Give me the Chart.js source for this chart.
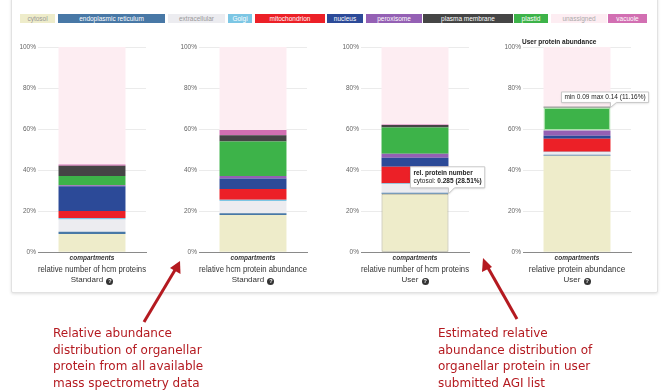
<!DOCTYPE html>
<html>
<head>
<meta charset="utf-8">
<script src="https://cdn.jsdelivr.net/npm/chart.js@4.4.1/dist/chart.umd.min.js"></script>
<style>
  html, body { margin: 0; padding: 0; background: #fff; }
  body { width: 670px; height: 392px; position: relative; overflow: hidden; font-family: "Liberation Sans", Arial, sans-serif; }
  .panel { position: absolute; left: 11px; top: -4px; width: 645px; height: 295px; border: 1px solid #e2e2e2; border-radius: 2px; box-shadow: 0 1px 3px rgba(0,0,0,0.12); background: #fff; }
  .legend-item { position: absolute; top: 14px; height: 9px; line-height: 9px; font-size: 6.5px; text-align: center; white-space: nowrap; }
  canvas { position: absolute; }
  .sub { position: absolute; top: 275px; width: 90px; text-align: center; font-size: 8px; color: #333; line-height: 10px; will-change: transform; }
  .q { display: inline-block; width: 7px; height: 7px; border-radius: 50%; background: #333; color: #fff; font-size: 5.5px; line-height: 7px; font-weight: bold; text-align: center; vertical-align: -1px; margin-left: 1px; }
  .ctitle { position: absolute; left: 522px; top: 38px; font-size: 6.5px; font-weight: bold; color: #222; }
  .note { position: absolute; font-family: "DejaVu Sans", sans-serif; font-size: 12px; line-height: 16.7px; color: #b41a20; }
</style>
</head>
<body>
<div class="panel"></div>
<div id="legend"></div>
<canvas id="c1" width="158" height="235" style="left:14px; top:40px;"></canvas>
<canvas id="c2" width="158" height="235" style="left:175px; top:40px;"></canvas>
<canvas id="c3" width="158" height="235" style="left:337px; top:40px;"></canvas>
<canvas id="c4" width="158" height="235" style="left:499px; top:40px;"></canvas>
<div class="sub" style="left:47px;">Standard <span class="q">?</span></div>
<div class="sub" style="left:208px;">Standard <span class="q">?</span></div>
<div class="sub" style="left:370px;">User <span class="q">?</span></div>
<div class="sub" style="left:532px;">User <span class="q">?</span></div>
<div class="ctitle">User protein abundance</div>

<svg width="670" height="392" style="position:absolute; left:0; top:0; pointer-events:none;">
  <g stroke="#b41a20" stroke-width="3" fill="#b41a20">
    <line x1="144" y1="322" x2="175" y2="270" />
    <polygon points="180,261 180.5,274 170,268" stroke="none" />
    <line x1="517" y1="319" x2="487" y2="266" />
    <polygon points="483,258 492,267 482,272" stroke="none" />
  </g>
</svg>

<div class="note" style="left:53px; top:325px;">Relative abundance<br>distribution of organellar<br>protein from all available<br>mass spectrometry data</div>
<div class="note" style="left:438px; top:325px;">Estimated relative<br>abundance distribution of<br>organellar protein in user<br>submitted AGI list</div>

<script>
const compartments = ["cytosol", "endoplasmic reticulum", "extracellular", "Golgi", "mitochondrion", "nucleus", "peroxisome", "plasma membrane", "plastid", "unassigned", "vacuole"];
const colors = ["#eeecca", "#4878a6", "#ececf0", "#7cc6e4", "#ec2027", "#2c4a98", "#9460b4", "#454545", "#3db349", "#fdedf2", "#d26fb2"];
const legendText = ["#999", "#fff", "#999", "#fff", "#fff", "#fff", "#fff", "#fff", "#fff", "#aaa", "#fff"];
// stacking order, bottom to top (indexes into compartments)
const stackOrder = [0, 1, 2, 3, 4, 5, 6, 8, 7, 10, 9];

// percentages, same order as compartments
const stdNumber    = [9.0, 1.0, 6.0, 0.7, 3.5, 12.0, 0.5, 5.0, 4.5, 57.2, 0.6];
const stdAbundance = [18.2, 0.8, 6.0, 0.6, 5.2, 5.2, 1.2, 3.0, 16.8, 40.4, 2.6];
const userNumber   = [28.51, 0.5, 4.3, 0.4, 8.0, 4.3, 2.0, 1.2, 12.8, 37.69, 0.3];
const userAbundance = [47.0, 0.5, 1.2, 0.3, 6.3, 1.5, 2.6, 0.3, 11.16, 29.14, 0];

const xLabels = ["compartments"];
const yTicks = [0, 20, 40, 60, 80, 100];

// legend layout
const legendLeft  = [20, 58, 168, 228, 255, 327, 366, 423, 514, 551, 608];
const legendWidth = [35, 107, 57, 24, 70, 36, 56, 90, 34, 56, 39];

const legendDiv = document.getElementById("legend");
compartments.forEach((name, i) => {
    const el = document.createElement("div");
    el.className = "legend-item";
    el.style.left = legendLeft[i] + "px";
    el.style.width = legendWidth[i] + "px";
    el.style.background = colors[i];
    el.style.color = legendText[i];
    el.textContent = name;
    legendDiv.appendChild(el);
});

Chart.defaults.font.family = "'Liberation Sans', Arial, sans-serif";
Chart.defaults.animation = false;

// draws a tooltip-like callout next to one bar segment
const calloutPlugin = {
    id: "callout",
    afterDraw(chart, args, opts) {
        if (!opts.lines) return;
        const el = chart.getDatasetMeta(opts.datasetIndex).data[0];
        const ctx = chart.ctx;
        const tipX = el.x + el.width / 2;
        const tipY = el.y;
        const fs = 6.5, lh = 8.5, pad = opts.pad || 3;
        let w = 0;
        opts.lines.forEach(parts => {
            let lw = 0;
            parts.forEach(p => {
                ctx.font = (p[1] ? "bold " : "") + fs + "px 'Liberation Sans', Arial";
                lw += ctx.measureText(p[0]).width;
            });
            w = Math.max(w, lw);
        });
        const bw = w + 6, bh = opts.lines.length * lh + pad * 2 - 2;
        const bx = tipX + opts.offsetX, by = tipY - opts.gap - bh;
        ctx.save();
        ctx.shadowColor = "rgba(0,0,0,0.15)";
        ctx.shadowBlur = 2;
        ctx.shadowOffsetY = 1;
        ctx.fillStyle = "#fff";
        ctx.beginPath();
        ctx.rect(bx, by, bw, bh);
        ctx.moveTo(tipX, by + bh);
        ctx.lineTo(tipX + 6, by + bh);
        ctx.lineTo(tipX, tipY);
        ctx.fill();
        ctx.shadowColor = "transparent";
        ctx.strokeStyle = "#c8c8c8";
        ctx.lineWidth = 1;
        ctx.beginPath();
        ctx.moveTo(tipX, by + bh);
        ctx.lineTo(bx, by + bh);
        ctx.lineTo(bx, by);
        ctx.lineTo(bx + bw, by);
        ctx.lineTo(bx + bw, by + bh);
        ctx.lineTo(tipX + 6, by + bh);
        ctx.lineTo(tipX, tipY);
        ctx.closePath();
        ctx.stroke();
        ctx.fillStyle = "#222";
        ctx.textBaseline = "middle";
        opts.lines.forEach((parts, li) => {
            let x = bx + 3;
            const y = by + pad - 1 + lh * li + lh / 2;
            parts.forEach(p => {
                ctx.font = (p[1] ? "bold " : "") + fs + "px 'Liberation Sans', Arial";
                ctx.fillText(p[0], x, y);
                x += ctx.measureText(p[0]).width;
            });
        });
        ctx.restore();
    }
};

function makeChart(id, values, axisTitle, callout, highlight) {
    const datasets = stackOrder.map(i => {
        const ds = {
            label: compartments[i],
            data: [values[i]],
            backgroundColor: colors[i],
            borderWidth: 0,
            barPercentage: 0.62,
            categoryPercentage: 1
        };
        if (highlight && highlight.index === i) {
            ds.borderWidth = highlight.width;
            ds.borderColor = highlight.color;
            ds.borderSkipped = false;
        }
        return ds;
    });
    return new Chart(document.getElementById(id), {
        type: "bar",
        data: { labels: xLabels, datasets: datasets },
        plugins: [calloutPlugin],
        options: {
            responsive: false,
            layout: { padding: { top: 7, right: 26, left: 0, bottom: 0 } },
            scales: {
                x: {
                    stacked: true,
                    grid: { display: false, drawTicks: false },
                    border: { display: true, color: "#8a8a8a", width: 1 },
                    ticks: { color: "#333", padding: 2, font: { size: 6.5, style: "italic", weight: "bold" } },
                    title: { display: true, text: axisTitle, color: "#333", font: { size: 8.2 }, padding: { top: 1, bottom: 0 } }
                },
                y: {
                    stacked: true,
                    min: 0,
                    max: 100,
                    afterBuildTicks: s => { s.ticks = yTicks.map(v => ({ value: v })); },
                    afterFit: s => { s.width = 24; },
                    ticks: { color: "#666", padding: 2, font: { size: 6.5 }, callback: v => v + "%" },
                    grid: { color: "#ebebeb", drawTicks: false },
                    border: { display: false }
                }
            },
            plugins: {
                legend: { display: false },
                tooltip: { enabled: false },
                callout: callout || {}
            }
        }
    });
}

makeChart("c1", stdNumber, "relative number of hcm proteins");
makeChart("c2", stdAbundance, "relative hcm protein abundance");
makeChart("c3", userNumber, "relative number of hcm proteins",
    { datasetIndex: 0, offsetX: -38, gap: 6, pad: 3, lines: [[["rel. protein number", true]], [["cytosol: ", false], ["0.285 (28.51%)", true]]] },
    { index: 0, width: 1, color: "#a9a68c" });
makeChart("c4", userAbundance, "relative protein abundance",
    { datasetIndex: 7, offsetX: -49, gap: 5, pad: 2, lines: [[["min 0.09 max 0.14 (11.16%)", false]]] },
    { index: 8, width: 1.5, color: "#a8e0a8" });
</script>
</body>
</html>
